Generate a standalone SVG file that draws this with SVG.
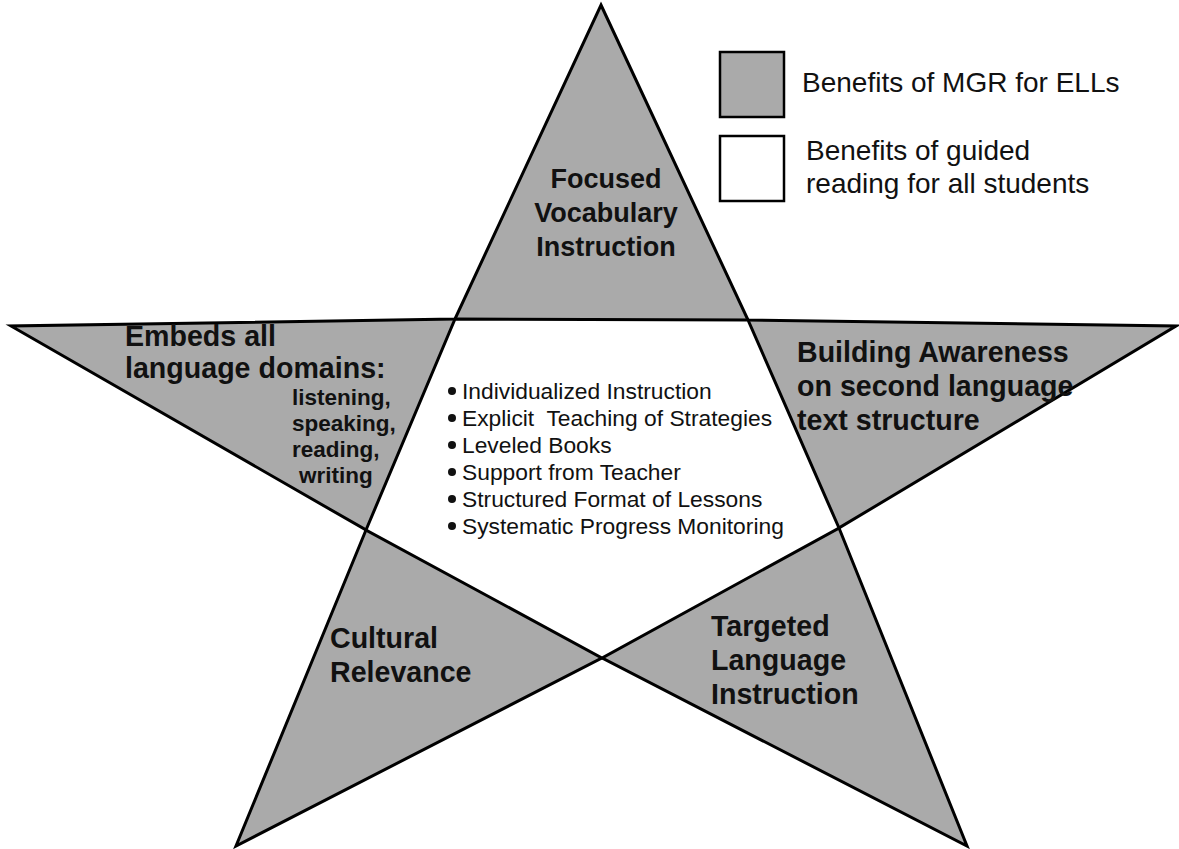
<svg xmlns="http://www.w3.org/2000/svg" width="1179" height="849" viewBox="0 0 1179 849">
<style>
.bg{fill:#ffffff}
.arm{fill:#aaaaaa;stroke:#000;stroke-width:3;stroke-linejoin:miter}
.core{fill:#ffffff;stroke:#000;stroke-width:3;stroke-linejoin:miter}
.lbl{font-family:"Liberation Sans",Arial,sans-serif;font-weight:bold;font-size:28.6px;fill:#111}
.sub{font-family:"Liberation Sans",Arial,sans-serif;font-weight:bold;font-size:22.5px;fill:#111}
.lst{font-family:"Liberation Sans",Arial,sans-serif;font-size:22.8px;fill:#111;white-space:pre}
.leg{font-family:"Liberation Sans",Arial,sans-serif;font-size:28px;fill:#111}
.box{stroke:#000;stroke-width:2.5}
.dot{fill:#111}
</style>
<rect class="bg" x="0" y="0" width="1179" height="849"/>
<g id="star">
<polygon class="arm" points="601,5 748,320 1176,326 839,528 967,846 602,658 236,846 366,530 11,326 455,319"/>
<polygon class="core" points="455,319 748,320 839,528 602,658 366,530"/>
</g>
<g id="node-top">
<text class="lbl" text-anchor="middle" x="606" y="188" style="font-size:27px">Focused</text>
<text class="lbl" text-anchor="middle" x="606" y="222" style="font-size:27px">Vocabulary</text>
<text class="lbl" text-anchor="middle" x="606" y="256" style="font-size:27px">Instruction</text>
</g>
<g id="node-left">
<text class="lbl" x="125" y="346">Embeds all</text>
<text class="lbl" x="125" y="378">language domains:</text>
<text class="sub" x="292" y="405">listening,</text>
<text class="sub" x="292" y="431">speaking,</text>
<text class="sub" x="292" y="457">reading,</text>
<text class="sub" x="299" y="483">writing</text>
</g>
<g id="node-right">
<text class="lbl" x="797" y="362">Building Awareness</text>
<text class="lbl" x="797" y="396">on second language</text>
<text class="lbl" x="797" y="430">text structure</text>
</g>
<g id="node-bottom-left">
<text class="lbl" x="330" y="648">Cultural</text>
<text class="lbl" x="330" y="682">Relevance</text>
</g>
<g id="node-bottom-right">
<text class="lbl" x="711" y="636">Targeted</text>
<text class="lbl" x="711" y="670">Language</text>
<text class="lbl" x="711" y="704">Instruction</text>
</g>
<g id="node-center">
<circle class="dot" cx="452" cy="391" r="4"/>
<text class="lst" x="462" y="399">Individualized Instruction</text>
<circle class="dot" cx="452" cy="418" r="4"/>
<text class="lst" x="462" y="426">Explicit  Teaching of Strategies</text>
<circle class="dot" cx="452" cy="445" r="4"/>
<text class="lst" x="462" y="453">Leveled Books</text>
<circle class="dot" cx="452" cy="472" r="4"/>
<text class="lst" x="462" y="480">Support from Teacher</text>
<circle class="dot" cx="452" cy="499" r="4"/>
<text class="lst" x="462" y="507">Structured Format of Lessons</text>
<circle class="dot" cx="452" cy="526" r="4"/>
<text class="lst" x="462" y="534">Systematic Progress Monitoring</text>
</g>
<g id="legend-mgr">
<rect class="box" x="720" y="52" width="64" height="65" fill="#aaaaaa"/>
<text class="leg" x="802" y="92">Benefits of MGR for ELLs</text>
</g>
<g id="legend-guided">
<rect class="box" x="720" y="136" width="64" height="65" fill="#ffffff"/>
<text class="leg" x="806" y="160">Benefits of guided</text>
<text class="leg" x="806" y="193">reading for all students</text>
</g>
<g id="connectors"></g>
</svg>
